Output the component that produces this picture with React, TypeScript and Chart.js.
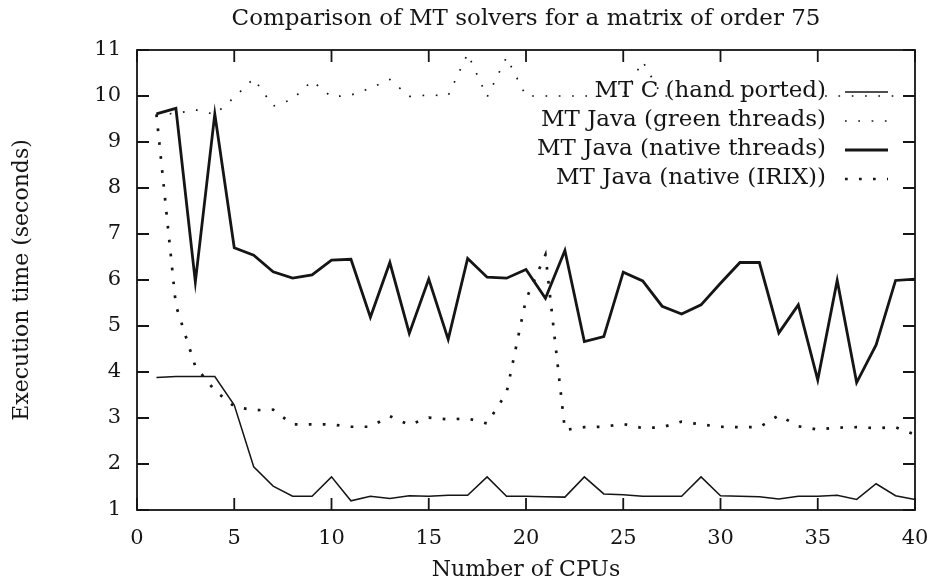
import React, { useEffect, useRef } from "react";
import { Chart, registerables } from "chart.js";

Chart.register(...registerables);

const cpus = [
  1, 2, 3, 4, 5, 6, 7, 8, 9, 10, 11, 12, 13, 14, 15, 16, 17, 18, 19, 20,
  21, 22, 23, 24, 25, 26, 27, 28, 29, 30, 31, 32, 33, 34, 35, 36, 37, 38, 39, 40,
];

const mtC = [
  3.88, 3.9, 3.9, 3.9, 3.28, 1.94, 1.52, 1.3, 1.3, 1.72,
  1.2, 1.3, 1.25, 1.31, 1.3, 1.32, 1.32, 1.72, 1.3, 1.3,
  1.29, 1.28, 1.72, 1.35, 1.33, 1.3, 1.3, 1.3, 1.72, 1.31,
  1.3, 1.29, 1.24, 1.3, 1.3, 1.32, 1.23, 1.57, 1.31, 1.23,
];

const javaGreen = [
  9.6, 9.62, 9.7, 9.6, 9.97, 10.38, 9.78, 9.93, 10.33, 9.98,
  10.02, 10.17, 10.36, 9.99, 10.02, 10.01, 10.92, 9.98, 10.84, 10.0,
  10.0, 10.0, 10.0, 10.0, 10.02, 10.75, 10.0, 10.0, 10.0, 10.0,
  10.0, 10.0, 10.0, 10.0, 10.0, 10.0, 10.0, 10.0, 10.0, 10.0,
];

const javaNative = [
  9.61, 9.73, 5.96, 9.61, 6.7, 6.54, 6.18, 6.04, 6.11, 6.43,
  6.45, 5.19, 6.38, 4.84, 6.02, 4.71, 6.47, 6.06, 6.04, 6.23,
  5.6, 6.64, 4.66, 4.77, 6.17, 5.98, 5.43, 5.26, 5.46, 5.93,
  6.38, 6.38, 4.85, 5.46, 3.83, 5.99, 3.77, 4.59, 5.99, 6.02,
];

const javaIrix = [
  9.6, 5.45, 4.12, 3.6, 3.25, 3.17, 3.18, 2.86, 2.86, 2.86,
  2.81, 2.81, 3.04, 2.85, 3.01, 2.97, 2.99, 2.88, 3.55, 5.58,
  6.55, 2.74, 2.8, 2.81, 2.87, 2.78, 2.8, 2.92, 2.86, 2.81,
  2.8, 2.8, 3.06, 2.82, 2.75, 2.79, 2.8, 2.78, 2.8, 2.64,
];

const seriesLabels = [
  "MT C (hand ported)",
  "MT Java (green threads)",
  "MT Java (native threads)",
  "MT Java (native (IRIX))",
];

const titleText = "Comparison of MT solvers for a matrix of order 75";
const xTitle = "Number of CPUs";
const yTitle = "Execution time (seconds)";

const FONT = "'DejaVu Serif', serif";
const INK = "#151515";

const framePlugin = {
  id: "gnuFrame",
  afterDatasetsDraw(chart: any) {
    const { ctx, chartArea: a, scales } = chart;
    ctx.save();
    ctx.strokeStyle = INK;
    ctx.lineWidth = 1.8;
    ctx.strokeRect(a.left, a.top, a.right - a.left, a.bottom - a.top);
    const L = 12;
    ctx.beginPath();
    scales.x.ticks.forEach((t: any) => {
      const px = scales.x.getPixelForValue(t.value);
      ctx.moveTo(px, a.bottom);
      ctx.lineTo(px, a.bottom - L);
      ctx.moveTo(px, a.top);
      ctx.lineTo(px, a.top + L);
    });
    scales.y.ticks.forEach((t: any) => {
      const py = scales.y.getPixelForValue(t.value);
      ctx.moveTo(a.left, py);
      ctx.lineTo(a.left + L, py);
      ctx.moveTo(a.right, py);
      ctx.lineTo(a.right - L, py);
    });
    ctx.stroke();
    ctx.restore();
  },
};

const legendPlugin = {
  id: "gnuLegend",
  afterDraw(chart: any) {
    const { ctx, chartArea: a } = chart;
    ctx.save();
    ctx.font = `23px ${FONT}`;
    ctx.fillStyle = INK;
    ctx.textAlign = "right";
    ctx.textBaseline = "middle";
    chart.data.datasets.forEach((ds: any, i: number) => {
      const y = a.top + 41 + i * 29;
      const textRight = a.right - 89;
      ctx.fillText(ds.label, textRight, y);
      ctx.beginPath();
      ctx.strokeStyle = ds.borderColor;
      ctx.lineWidth = ds.borderWidth;
      ctx.lineCap = "butt";
      ctx.setLineDash(ds.borderDash || []);
      ctx.moveTo(a.right - 70, y + 1);
      ctx.lineTo(a.right - 27, y + 1);
      ctx.stroke();
    });
    ctx.restore();
  },
};

export default function App() {
  const canvasRef = useRef<HTMLCanvasElement | null>(null);

  useEffect(() => {
    const canvas = canvasRef.current;
    if (!canvas) return;
    const mk = (data: number[]) => cpus.map((x, i) => ({ x, y: data[i] }));
    const chart = new Chart(canvas, {
      type: "line",
      data: {
        datasets: [
          {
            label: seriesLabels[0],
            data: mk(mtC),
            borderColor: INK,
            borderWidth: 1.5,
            pointRadius: 0,
            tension: 0,
            fill: false,
          },
          {
            label: seriesLabels[1],
            data: mk(javaGreen),
            borderColor: INK,
            borderWidth: 1.7,
            borderDash: [1.7, 11.6],
            borderCapStyle: "butt",
            pointRadius: 0,
            tension: 0,
            fill: false,
          },
          {
            label: seriesLabels[2],
            data: mk(javaNative),
            borderColor: INK,
            borderWidth: 2.8,
            pointRadius: 0,
            tension: 0,
            fill: false,
          },
          {
            label: seriesLabels[3],
            data: mk(javaIrix),
            borderColor: INK,
            borderWidth: 2.7,
            borderDash: [2.7, 11.3],
            borderCapStyle: "butt",
            pointRadius: 0,
            tension: 0,
            fill: false,
          },
        ],
      },
      options: {
        responsive: false,
        animation: false,
        layout: { padding: { left: 0, right: 14, top: 0, bottom: 0 } },
        plugins: {
          legend: { display: false },
          tooltip: { enabled: false },
          title: {
            display: true,
            fullSize: false,
            text: titleText,
            color: INK,
            font: { family: FONT, size: 23, weight: "normal", lineHeight: 1.2 },
            padding: { top: 5.5, bottom: 16.9 },
          },
        },
        scales: {
          x: {
            type: "linear",
            min: 0,
            max: 40,
            ticks: {
              stepSize: 5,
              color: INK,
              font: { family: FONT, size: 21 },
              padding: 16,
              maxRotation: 0,
            },
            grid: { display: false, drawTicks: false },
            border: { display: false },
            title: {
              display: true,
              text: xTitle,
              color: INK,
              font: { family: FONT, size: 22, lineHeight: 1 },
              padding: 0,
            },
            afterFit(scale: any) {
              scale.height = 71;
              scale.paddingLeft = 0;
              scale.paddingRight = 0;
            },
          },
          y: {
            type: "linear",
            min: 1,
            max: 11,
            ticks: {
              stepSize: 1,
              color: INK,
              font: { family: FONT, size: 21 },
              padding: 16,
            },
            grid: { display: false, drawTicks: false },
            border: { display: false },
            title: {
              display: true,
              text: yTitle,
              color: INK,
              font: { family: FONT, size: 22, lineHeight: 1.2 },
              padding: { top: 9, bottom: 0 },
            },
            afterFit(scale: any) {
              scale.width = 137;
              scale.paddingTop = 0;
              scale.paddingBottom = 0;
            },
          },
        },
      },
      plugins: [framePlugin, legendPlugin],
    });
    return () => chart.destroy();
  }, []);

  return (
    <div
      style={{
        position: "fixed",
        left: 0,
        top: 0,
        width: 929,
        height: 581,
        background: "#fff",
      }}
    >
      <canvas
        ref={canvasRef}
        width={929}
        height={581}
        style={{ display: "block", width: 929, height: 581 }}
      />
    </div>
  );
}
